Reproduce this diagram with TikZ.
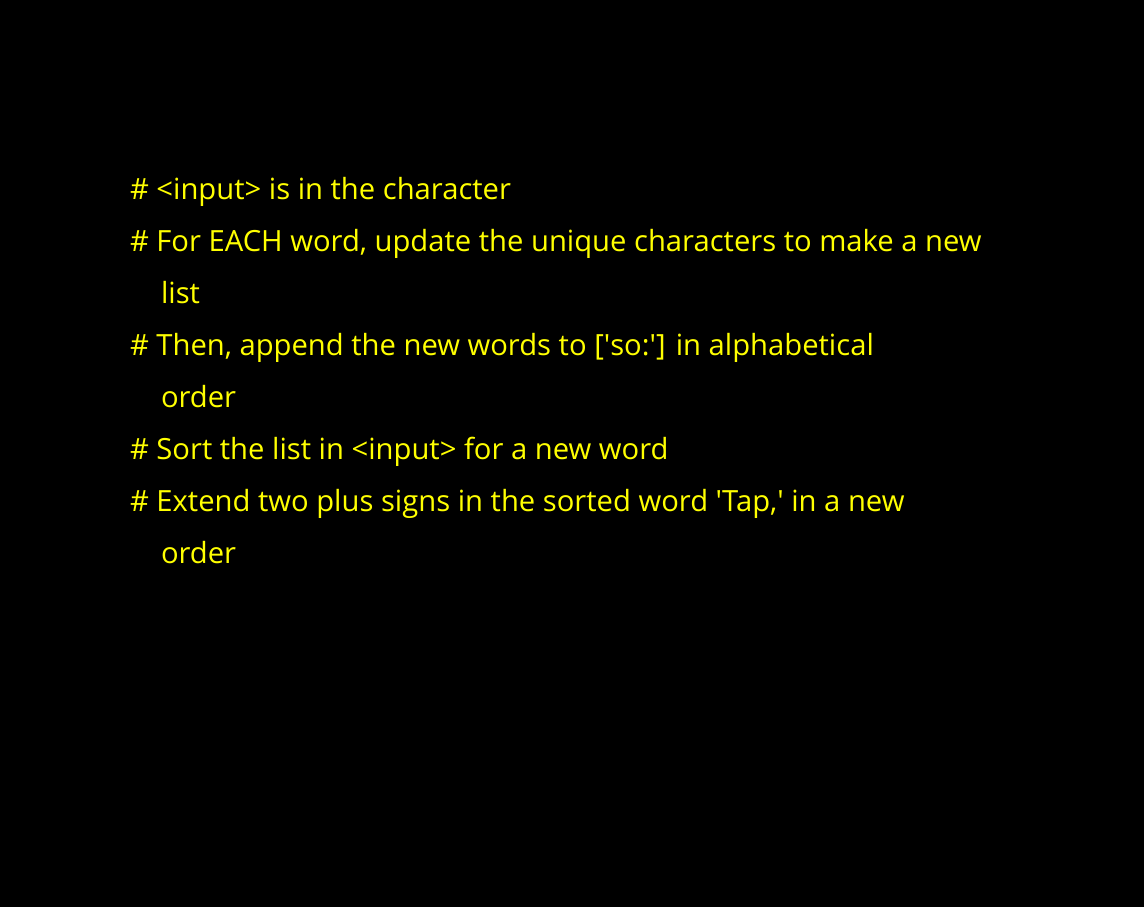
\documentclass[tikz,border=0pt]{standalone}
\usepackage{fontspec}
\setmainfont{Open Sans}
\definecolor{txtyellow}{RGB}{255,255,0}
\begin{document}
\begin{tikzpicture}[x=1pt,y=-1pt,
  line/.style={anchor=base west,inner sep=0pt,outer sep=0pt,text=txtyellow,font=\fontsize{29.2pt}{35pt}\selectfont}]
\fill[black] (0,0) rectangle (1144,907);
\useasboundingbox (0,0) rectangle (1144,907);
\node[line] (l1) at (130,199) {\# <input> is in the character};
\node[line] (l2) at (130,251) {\# For EACH word, update the unique characters to make a new};
\node[line] (l3) at (161,303) {list};
\node[line] (l4) at (130,355) {\# Then, append the new words to [\textquotesingle so:\textquotesingle] in alphabetical};
\node[line] (l5) at (161,407) {order};
\node[line] (l6) at (130,459) {\# Sort the list in <input> for a new word};
\node[line] (l7) at (130,511) {\# Extend two plus signs in the sorted word \textquotesingle Tap,\textquotesingle{} in a new};
\node[line] (l8) at (161,563) {order};
\end{tikzpicture}
\end{document}
